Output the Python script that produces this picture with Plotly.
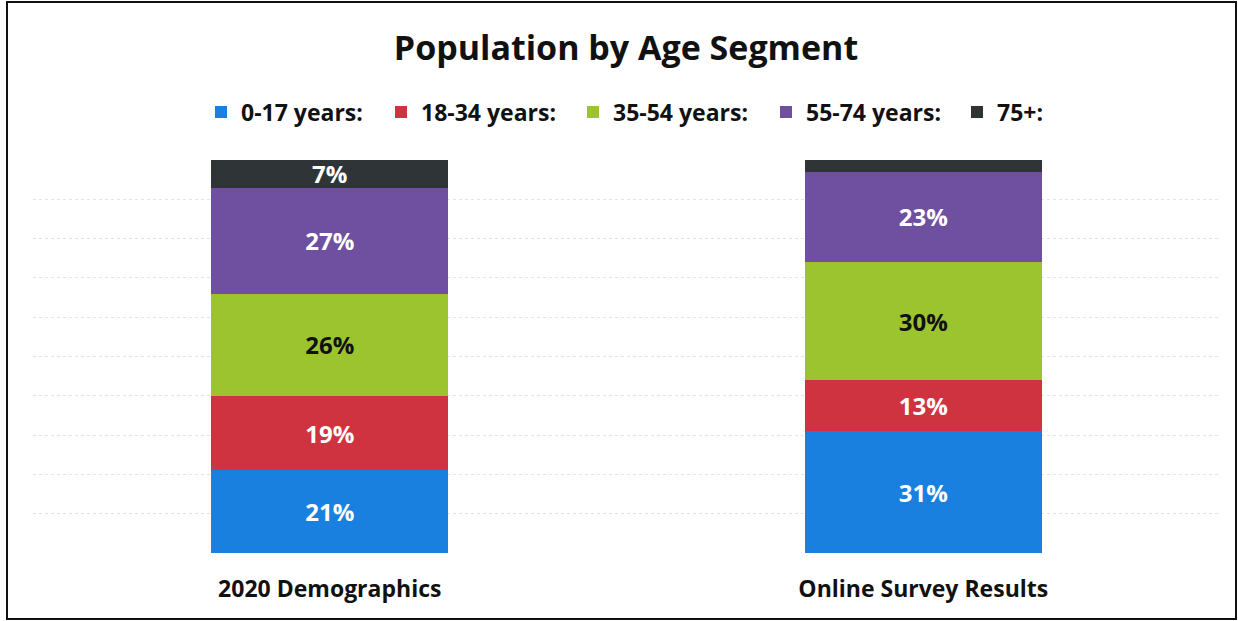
import plotly.graph_objects as go

# Age segment shares (percent) for each source
categories = ["2020 Demographics", "Online Survey Results"]
segments = ["0-17 years:", "18-34 years:", "35-54 years:", "55-74 years:", "75+:"]
age_0_17 = [21, 31]
age_18_34 = [19, 13]
age_35_54 = [26, 30]
age_55_74 = [27, 23]
age_75_plus = [7, 3]

series = [age_0_17, age_18_34, age_35_54, age_55_74, age_75_plus]
colors = ["#1a80e0", "#cf3340", "#9cc42f", "#6f4f9f", "#2f3537"]
label_colors = ["white", "white", "#111111", "white", "white"]

W, H = 1238, 621
ml, mr, mt, mb = 33, 18, 160, 68
pw, ph = W - ml - mr, H - mt - mb

FONT = "Open Sans"

# left edge (px) of each legend swatch; one legend box per entry
legend_swatch_px = [215, 395, 587, 780, 971]

fig = go.Figure()
legend_ids = []
for i, (name, vals, col, lc) in enumerate(zip(segments, series, colors, label_colors)):
    lid = "legend" if i == 0 else f"legend{i + 1}"
    legend_ids.append(lid)
    labels = [f"{v}%" if v >= 5 else "" for v in vals]
    fig.add_trace(go.Bar(
        name=name,
        x=categories,
        y=vals,
        legend=lid,
        marker=dict(color=col, line=dict(width=0)),
        text=labels,
        textposition="inside",
        insidetextanchor="middle",
        constraintext="none",
        textangle=0,
        textfont=dict(family=FONT, size=24, color=lc, weight="bold"),
        width=0.4,
        hoverinfo="skip",
    ))

# outer frame around the whole chart
fig.add_shape(
    type="rect", xref="paper", yref="paper",
    x0=(7 - ml) / pw, x1=(W - 2 - ml) / pw,
    y0=-(H - 2 - mt - ph) / ph, y1=1 + (mt - 2) / ph,
    line=dict(color="#111111", width=2), layer="above",
)

legend_layout = {}
for lid, sx in zip(legend_ids, legend_swatch_px):
    legend_layout[lid] = dict(
        orientation="h",
        x=(sx - 14 - ml) / pw, xanchor="left",
        y=1 + 48 / ph, yanchor="middle",
        font=dict(family=FONT, size=23, color="#111111", weight="bold"),
        bgcolor="rgba(0,0,0,0)",
        itemclick=False,
    )

fig.update_layout(
    width=W, height=H,
    margin=dict(l=ml, r=mr, t=mt, b=mb),
    barmode="stack",
    paper_bgcolor="white",
    plot_bgcolor="white",
    font=dict(family=FONT, color="#111111"),
    title=dict(
        text="Population by Age Segment",
        x=626 / W, xanchor="center",
        y=1 - 48 / H, yanchor="middle",
        font=dict(family=FONT, size=34, color="#111111", weight="bold"),
    ),
    showlegend=True,
    **legend_layout,
)

fig.update_xaxes(
    range=[-0.5, 1.5],
    showgrid=False,
    showline=False,
    ticks="",
    ticklabelstandoff=20,
    tickfont=dict(family=FONT, size=23, color="#111111", weight="bold"),
)
fig.update_yaxes(
    range=[0, 100],
    dtick=10,
    showgrid=True,
    gridcolor="#e4e4e4",
    griddash="dot",
    gridwidth=1,
    zeroline=False,
    showline=False,
    showticklabels=False,
    ticks="",
)

fig.write_html("out.html")
